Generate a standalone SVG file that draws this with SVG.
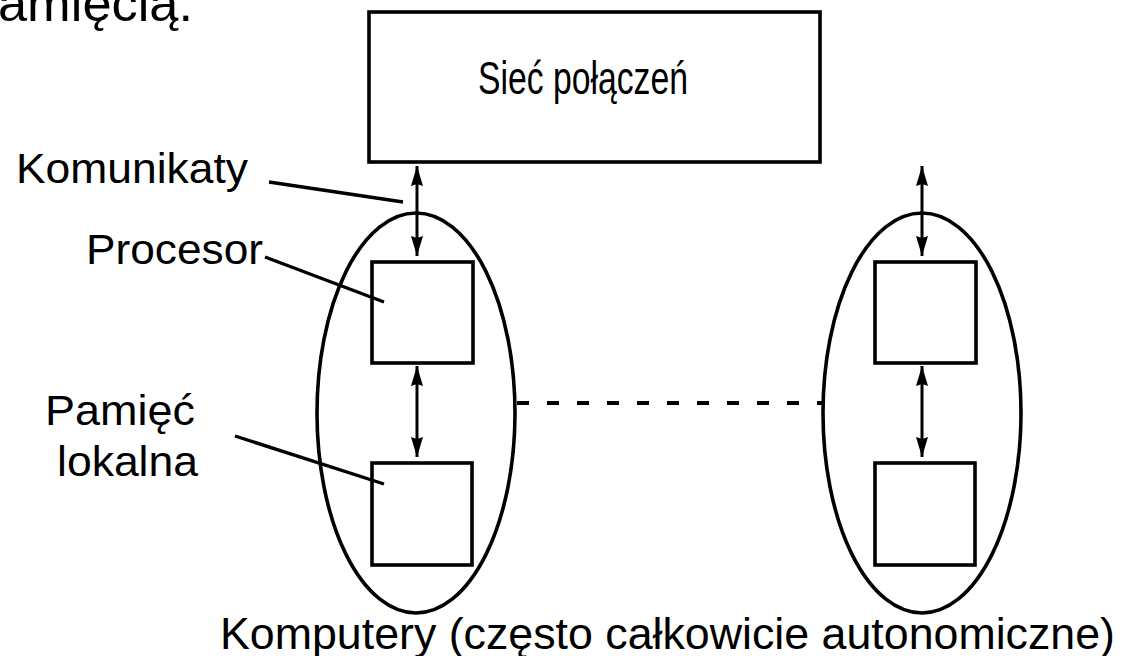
<svg xmlns="http://www.w3.org/2000/svg" width="1125" height="656" viewBox="0 0 1125 656">
<style>
text{font-family:"Liberation Sans",Arial,sans-serif;fill:#000}
.box{fill:#fff;stroke:#000;stroke-width:3.6}
.ell{fill:none;stroke:#000;stroke-width:3.6}
.arr{stroke:#000;stroke-width:3;fill:none;marker-start:url(#ah);marker-end:url(#ah)}
.lead{stroke:#000;stroke-width:3.4;fill:none}
.dash{stroke:#000;stroke-width:3.8;stroke-dasharray:12 18;fill:none}
</style>
<defs>
<marker id="ah" viewBox="0 0 20 12" refX="20" refY="6" markerWidth="20" markerHeight="12" markerUnits="userSpaceOnUse" orient="auto-start-reverse">
<path d="M0,0 L20,6 L0,12 L2,6 z" fill="#000"/>
</marker>
</defs>
<text x="-2" y="21" font-size="50" textLength="195" lengthAdjust="spacingAndGlyphs">amięcią.</text>
<g id="network">
<rect class="box" x="369" y="12" width="451" height="150"/>
<text x="478" y="94" font-size="46" textLength="210" lengthAdjust="spacingAndGlyphs">Sieć połączeń</text>
</g>
<g id="computer-left">
<ellipse class="ell" cx="416" cy="413" rx="99" ry="200"/>
</g>
<g id="computer-right">
<ellipse class="ell" cx="922" cy="413" rx="99" ry="200"/>
</g>
<g id="proc-left"><rect class="box" x="372" y="262" width="101" height="101"/></g>
<g id="mem-left"><rect class="box" x="372" y="463" width="100" height="102"/></g>
<g id="proc-right"><rect class="box" x="875" y="262" width="101" height="101"/></g>
<g id="mem-right"><rect class="box" x="875" y="463" width="100" height="102"/></g>
<g id="connectors">
<line class="arr" x1="417" y1="166" x2="417" y2="256"/>
<line class="arr" x1="417" y1="366" x2="417" y2="457"/>
<line class="arr" x1="922" y1="166" x2="922" y2="256"/>
<line class="arr" x1="922" y1="366" x2="922" y2="457"/>
<line class="dash" x1="517" y1="403" x2="822" y2="403"/>
<line class="lead" x1="269" y1="182" x2="403" y2="202"/>
<line class="lead" x1="265" y1="257" x2="384" y2="302"/>
<line class="lead" x1="235" y1="436" x2="384" y2="484"/>
</g>
<g id="labels">
<text x="16" y="183" font-size="42" textLength="232" lengthAdjust="spacingAndGlyphs">Komunikaty</text>
<text x="86" y="264" font-size="42" textLength="177" lengthAdjust="spacingAndGlyphs">Procesor</text>
<text x="45" y="425" font-size="43" textLength="150" lengthAdjust="spacingAndGlyphs">Pamięć</text>
<text x="57" y="476" font-size="43" textLength="141" lengthAdjust="spacingAndGlyphs">lokalna</text>
<text x="220" y="649" font-size="45" textLength="895" lengthAdjust="spacingAndGlyphs">Komputery (często całkowicie autonomiczne)</text>
</g>
</svg>
